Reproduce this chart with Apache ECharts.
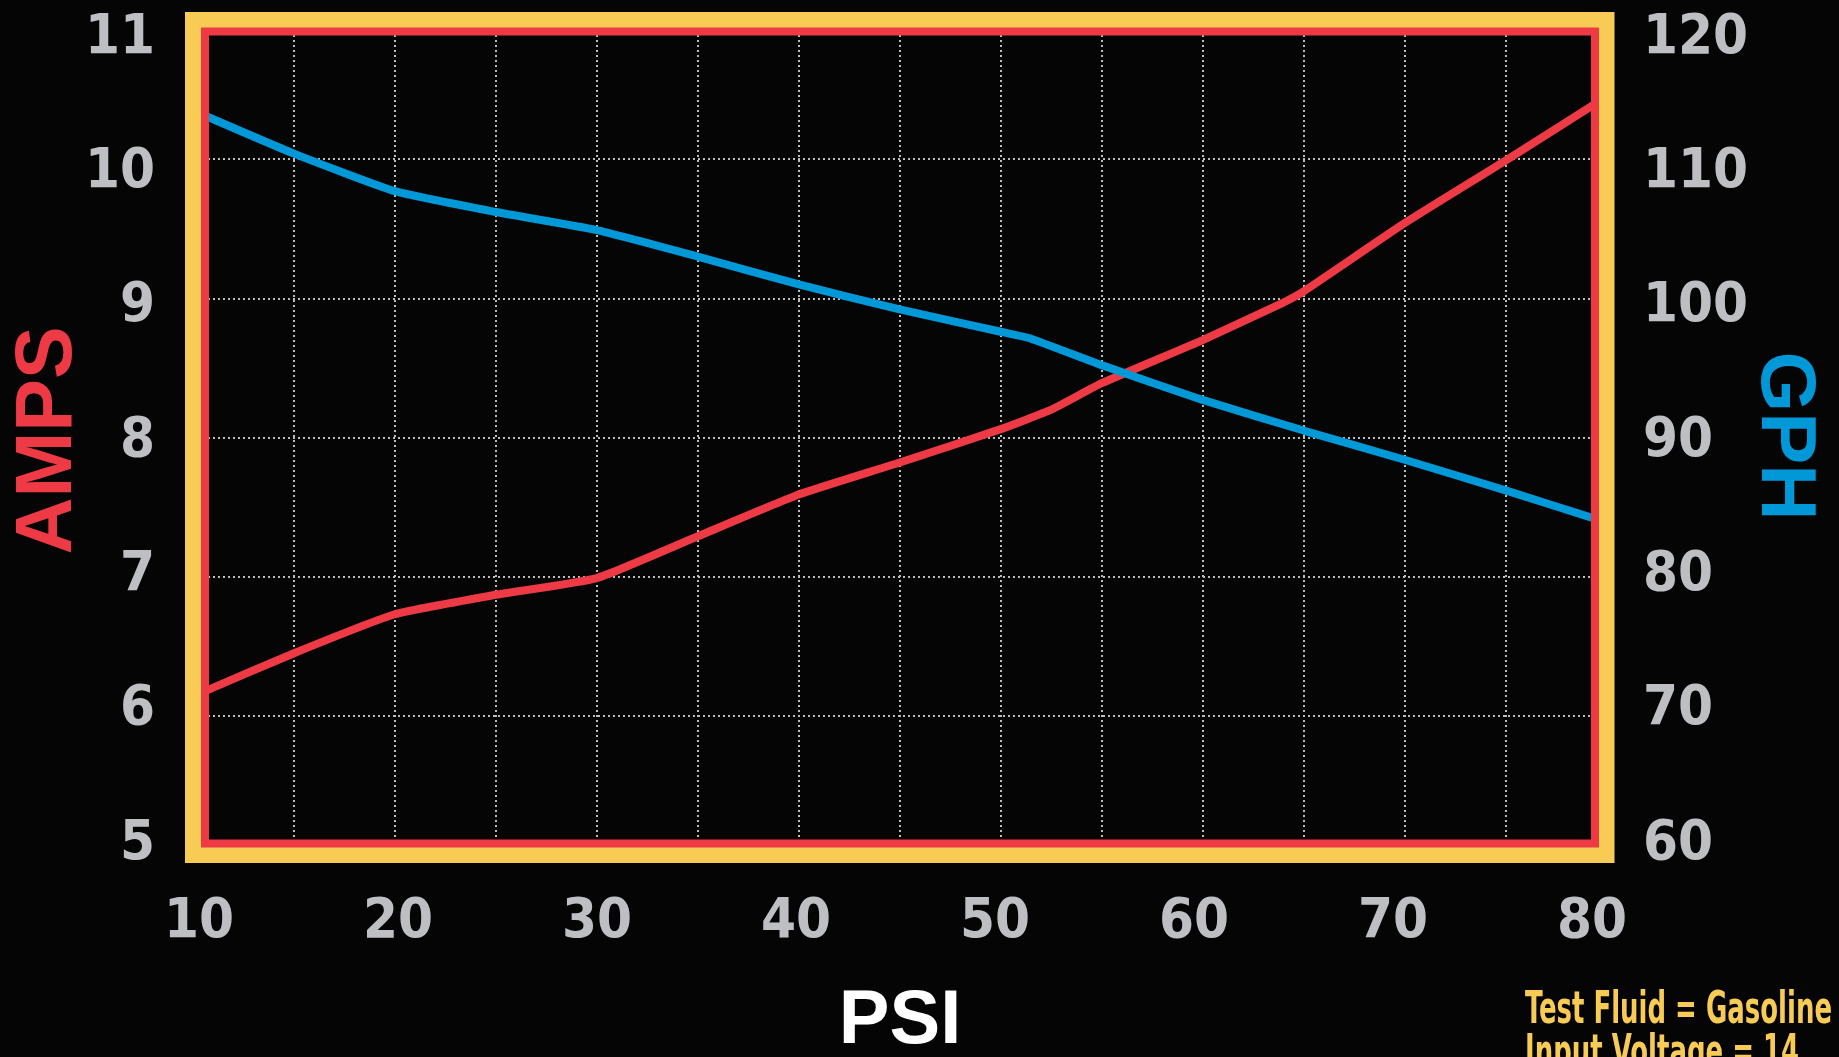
<!DOCTYPE html>
<html>
<head>
<meta charset="utf-8">
<script src="https://cdn.jsdelivr.net/npm/echarts@6/dist/echarts.min.js"></script>
<style>
html,body{margin:0;padding:0;background:#050505;}
#chart{width:1839px;height:1057px;}
</style>
</head>
<body>
<div id="chart"></div>
<script>
// ---- data ----
const ampsPsi   = [10, 15, 20, 25, 30, 35, 40, 45, 50, 52.5, 55, 60, 64, 65, 70, 75, 80];
const ampsValues = [6.14, 6.45, 6.73, 6.87, 6.99, 7.29, 7.59, 7.82, 8.06, 8.20, 8.39, 8.70, 8.97, 9.05, 9.54, 9.99, 10.45];
const gphPsi    = [10, 15, 20, 25, 30, 35, 40, 45, 50, 51.5, 55, 60, 65, 70, 75, 80];
const gphValues = [113.5, 110.4, 107.7, 106.2, 104.9, 103.0, 101.0, 99.2, 97.6, 97.1, 95.2, 92.7, 90.5, 88.4, 86.2, 83.9];
const psiTicks  = [10, 20, 30, 40, 50, 60, 70, 80];
const ampsTicks = [5, 6, 7, 8, 9, 10, 11];
const gphTicks  = [60, 70, 80, 90, 100, 110, 120];
const titles = { left: 'AMPS', right: 'GPH', bottom: 'PSI' };
const notes = ['Test Fluid = Gasoline', 'Input Voltage = 14'];

// ---- style ----
const YELLOW = '#F8CB55', RED = '#EE3A44', BLUE = '#0098D7', GRAY = '#BEBFC3', BG = '#050505';
const NARROW = "'Noto Sans ExtraCondensed','Noto Sans Condensed','Liberation Sans Narrow','DejaVu Sans Condensed',sans-serif";
const SANS = "'Liberation Sans',Arial,Helvetica,sans-serif";
const W = 1839, H = 1057;
const G = { left: 193, top: 20, right: 232.5, bottom: 202 };
const GW = W - G.left - G.right, GH = H - G.top - G.bottom;
const L = { left: 199, top: 38, right: 247, bottom: 213 };

function fitScale(text, font, target) {
  const ctx = document.createElement('canvas').getContext('2d');
  ctx.font = font;
  return target / ctx.measureText(text).width;
}
const noteFont = 'bold 44px ' + NARROW;
const noteScale = Math.min(1, fitScale(notes[0], noteFont, 307));

const chart = echarts.init(document.getElementById('chart'), null, { renderer: 'canvas' });
const dotted = { show: true, lineStyle: { color: '#BDBDBD', width: 2, type: [2, 3] } };
const hidden = { show: false };
const tickFont = { color: GRAY, fontFamily: NARROW, fontWeight: 'bold', fontSize: 56 };

chart.setOption({
  backgroundColor: BG,
  animation: false,
  grid: [
    { left: G.left, top: G.top, right: G.right, bottom: G.bottom, containLabel: false },
    { left: L.left, top: L.top, right: L.right, bottom: L.bottom, containLabel: false }
  ],
  xAxis: [
    { type: 'value', gridIndex: 0, min: 10, max: 80, interval: 5,
      axisLine: hidden, axisTick: hidden, axisLabel: hidden, splitLine: dotted },
    { type: 'value', gridIndex: 1, min: 10, max: 80, interval: 10,
      axisLine: hidden, axisTick: hidden, splitLine: hidden,
      axisLabel: Object.assign({ show: true, margin: 78, verticalAlign: 'middle', lineHeight: 56,
        formatter: v => psiTicks.includes(v) ? String(v) : '' }, tickFont) }
  ],
  yAxis: [
    { type: 'value', gridIndex: 0, min: 5, max: 11, interval: 1, position: 'left',
      axisLine: hidden, axisTick: hidden, axisLabel: hidden, splitLine: dotted },
    { type: 'value', gridIndex: 0, min: 60, max: 120, interval: 10, position: 'right',
      axisLine: hidden, axisTick: hidden, axisLabel: hidden, splitLine: hidden },
    { type: 'value', gridIndex: 1, min: 5, max: 11, interval: 1, position: 'left',
      axisLine: hidden, axisTick: hidden, splitLine: hidden,
      axisLabel: Object.assign({ show: true, margin: 44,
        formatter: v => ampsTicks.includes(v) ? String(v) : '' }, tickFont) },
    { type: 'value', gridIndex: 1, min: 60, max: 120, interval: 10, position: 'right',
      axisLine: hidden, axisTick: hidden, splitLine: hidden,
      axisLabel: Object.assign({ show: true, margin: 51,
        formatter: v => gphTicks.includes(v) ? String(v) : '' }, tickFont) }
  ],
  series: [
    { name: 'AMPS', type: 'line', xAxisIndex: 0, yAxisIndex: 0, smooth: 0.15, showSymbol: false,
      lineStyle: { color: RED, width: 8 }, z: 3,
      data: ampsPsi.map((p, i) => [p, ampsValues[i]]) },
    { name: 'GPH', type: 'line', xAxisIndex: 0, yAxisIndex: 1, smooth: 0.15, showSymbol: false,
      lineStyle: { color: BLUE, width: 8 }, z: 4,
      data: gphPsi.map((p, i) => [p, gphValues[i]]) }
  ],
  graphic: [
    { type: 'rect', z: 100, silent: true,
      shape: { x: G.left, y: G.top, width: GW, height: GH },
      style: { fill: null, stroke: YELLOW, lineWidth: 16 } },
    { type: 'rect', z: 101, silent: true,
      shape: { x: G.left + 12, y: G.top + 11.5, width: GW - 23.5, height: GH - 23 },
      style: { fill: null, stroke: RED, lineWidth: 8 } },
    { type: 'text', z: 110, x: 49, y: G.top + GH / 2 + 3, rotation: Math.PI / 2,
      style: { text: titles.left, fill: RED, font: 'bold 79px ' + SANS, textAlign: 'center', textVerticalAlign: 'middle' } },
    { type: 'text', z: 110, x: 1784, y: 436, rotation: -Math.PI / 2,
      style: { text: titles.right, fill: BLUE, font: 'bold 78px ' + SANS, textAlign: 'center', textVerticalAlign: 'middle' } },
    { type: 'text', z: 110, x: 900, y: 1022,
      style: { text: titles.bottom, fill: '#FFFFFF', font: 'bold 76px ' + SANS, textAlign: 'center', textVerticalAlign: 'middle' } },
    { type: 'text', z: 110, x: 1525, y: 1012, scaleX: noteScale,
      style: { text: notes[0], fill: YELLOW, font: noteFont, textAlign: 'left', textVerticalAlign: 'middle' } },
    { type: 'text', z: 110, x: 1525, y: 1055, scaleX: noteScale,
      style: { text: notes[1], fill: YELLOW, font: noteFont, textAlign: 'left', textVerticalAlign: 'middle' } }
  ]
});
</script>
</body>
</html>
